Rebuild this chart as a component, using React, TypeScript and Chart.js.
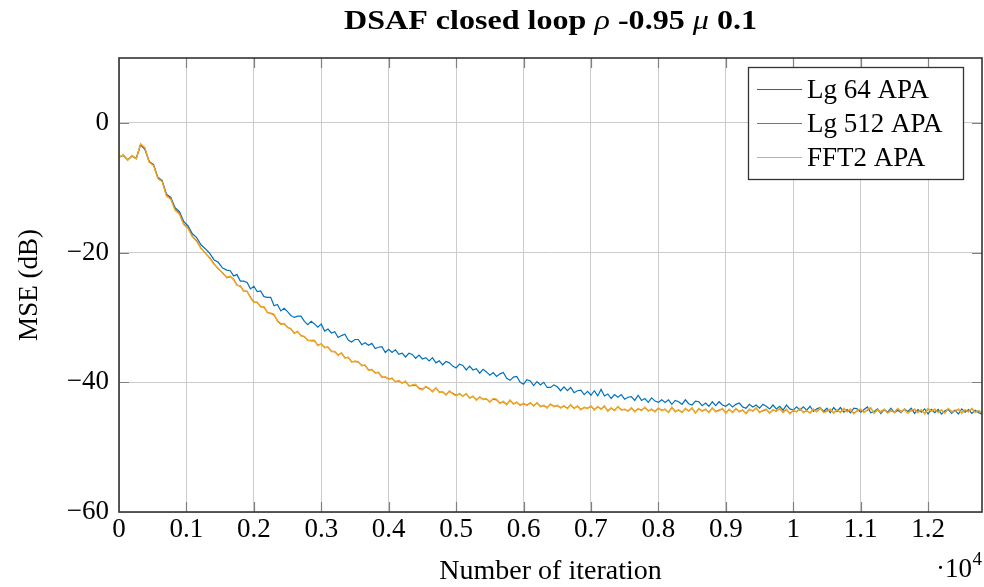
import React, { useEffect, useRef } from "react";
import { Chart, registerables } from "chart.js";

Chart.register(...registerables);

// Iteration index of each sample: every 64 iterations during the fast initial
// descent, then every 50 iterations up to the end of the run.
const EARLY_ITERATIONS = [
  0, 64, 128, 192, 256, 320, 384, 448, 512, 576, 640, 704, 768, 832, 896, 960,
  1024, 1088, 1152, 1216, 1280, 1344, 1408, 1472, 1536,
];
const LATE_START = 1600;
const LATE_STEP = 50;
const LATE_COUNT = 225;
const ITERATIONS = [
  ...EARLY_ITERATIONS,
  ...Array.from({ length: LATE_COUNT }, (_, k) => LATE_START + LATE_STEP * k),
];

// Axis ticks
const X_TICKS = [0, 1000, 2000, 3000, 4000, 5000, 6000, 7000, 8000, 9000, 10000, 11000, 12000];
const Y_TICKS = [-60, -40, -20, 0];
const X_MAX = 12800;
const Y_MIN = -60;
const Y_MAX = 10;

// MSE in dB
const MSE_LG64 = [
  -5.3, -5.0, -5.7, -5.1, -5.5, -3.4, -4.1, -6.0, -6.4, -8.4, -8.9, -11.0, -11.5,
  -13.1, -13.7, -15.2, -15.9, -17.1, -17.7, -18.8, -19.4, -20.1, -21.1, -21.5, -22.4,
  -22.7, -22.8, -23.6, -23.4, -24.4, -24.4, -24.6, -25.6, -25.2, -26.0,
  -25.9, -26.8, -26.9, -26.9, -28.2, -28.0, -29.0, -28.6, -29.1, -29.7,
  -30.0, -29.8, -29.8, -30.6, -31.1, -30.6, -31.0, -31.5, -31.0, -32.1,
  -31.8, -32.4, -32.2, -33.1, -32.8, -32.6, -33.5, -33.8, -33.4, -33.4,
  -34.2, -33.9, -34.3, -34.0, -34.8, -34.6, -34.5, -35.4, -34.9, -35.4,
  -35.0, -35.7, -35.5, -36.1, -35.5, -35.7, -36.3, -35.8, -36.4, -36.2,
  -36.7, -36.2, -37.0, -36.7, -37.3, -36.8, -37.0, -37.5, -37.8, -37.2,
  -37.4, -38.1, -37.5, -38.1, -37.9, -38.6, -38.0, -38.4, -38.9, -38.5,
  -39.1, -38.7, -38.5, -39.4, -39.7, -39.2, -39.1, -40.0, -40.3, -39.6,
  -39.8, -40.5, -39.9, -40.4, -40.0, -40.8, -40.8, -40.4, -40.7, -41.3,
  -40.7, -41.3, -40.8, -41.6, -41.3, -41.2, -41.9, -41.4, -42.0, -41.3,
  -42.1, -41.1, -42.1, -41.8, -42.5, -41.9, -42.3, -41.9, -42.6, -42.3,
  -42.2, -42.8, -42.0, -42.8, -42.5, -43.1, -42.4, -42.9, -43.1, -42.7,
  -43.1, -42.7, -43.4, -42.8, -43.0, -43.4, -42.7, -43.3, -43.5, -42.9,
  -43.0, -43.6, -43.2, -43.7, -43.0, -43.6, -43.0, -43.5, -43.7, -43.3,
  -43.8, -43.4, -43.2, -43.8, -44.0, -43.4, -43.8, -43.5, -44.0, -43.4,
  -43.7, -44.1, -43.5, -44.1, -43.7, -44.3, -43.5, -44.1, -44.3, -43.8,
  -44.3, -43.8, -44.3, -43.7, -44.5, -44.1, -43.9, -44.5, -44.0, -44.7,
  -43.9, -44.5, -43.9, -44.6, -44.2, -44.7, -44.0, -44.1, -44.6, -44.2,
  -43.8, -44.7, -44.5, -44.1, -44.8, -44.2, -44.6, -44.0, -44.7, -44.3,
  -44.7, -44.1, -44.5, -44.0, -44.8, -44.2, -44.6, -44.1, -44.9, -44.2,
  -44.7, -44.2, -44.9, -44.4, -44.2, -44.8, -44.3, -44.9, -44.1, -44.6,
  -44.2, -44.8, -44.3, -44.7, -44.9,
];

const MSE_LG512 = [
  -5.3, -5.0, -5.7, -5.1, -5.5, -3.3, -3.9, -6.0, -6.5, -8.5, -9.0, -11.2, -11.7,
  -13.4, -14.0, -15.6, -16.2, -17.5, -18.2, -19.3, -20.1, -20.8, -21.7, -22.5, -23.1,
  -23.9, -23.7, -24.1, -25.0, -25.2, -25.9, -26.0, -26.9, -27.6, -27.7,
  -28.3, -28.4, -29.2, -29.4, -29.6, -30.5, -31.0, -31.0, -31.5, -31.8,
  -32.4, -32.2, -32.8, -33.0, -33.5, -33.6, -33.6, -34.3, -34.1, -34.6,
  -34.6, -35.2, -35.3, -35.8, -35.5, -36.2, -36.2, -36.8, -36.8, -36.9,
  -37.4, -37.4, -38.1, -38.1, -38.5, -38.5, -39.2, -39.2, -39.5, -39.4,
  -39.9, -39.8, -40.1, -39.9, -40.5, -40.5, -40.4, -40.9, -41.1, -40.7,
  -41.0, -41.4, -40.9, -41.5, -41.5, -41.9, -41.4, -41.7, -42.0, -41.8,
  -42.1, -41.8, -42.4, -42.2, -42.7, -42.3, -42.6, -42.6, -43.0, -42.6,
  -42.7, -43.2, -43.0, -43.4, -42.8, -43.3, -43.1, -43.5, -43.3, -43.5,
  -43.2, -43.6, -43.2, -43.7, -43.6, -43.9, -43.4, -43.7, -43.6, -43.9,
  -43.7, -44.0, -43.5, -44.0, -43.7, -44.2, -43.9, -44.0, -43.7, -44.2,
  -43.8, -44.1, -43.7, -44.4, -44.0, -44.3, -43.8, -44.2, -44.2, -44.4,
  -44.0, -44.5, -44.1, -44.3, -43.9, -44.4, -44.2, -44.5, -44.0, -44.3,
  -44.2, -44.6, -43.9, -44.5, -44.3, -44.6, -44.1, -44.4, -44.0, -44.7,
  -44.1, -44.4, -44.2, -44.6, -44.0, -44.5, -44.3, -44.1, -44.7, -44.2,
  -44.6, -44.1, -44.5, -44.3, -44.8, -44.2, -44.4, -44.0, -44.6, -44.4,
  -44.2, -44.7, -44.3, -44.4, -44.1, -44.6, -44.2, -44.8, -44.4, -44.5,
  -44.1, -44.6, -44.4, -44.7, -44.2, -44.5, -44.0, -44.6, -44.4, -44.2,
  -44.7, -44.3, -44.6, -44.1, -44.5, -44.2, -44.8, -44.4, -44.2, -44.6,
  -44.3, -44.0, -44.7, -44.3, -44.5, -44.2, -44.7, -44.4, -44.6, -44.1,
  -44.5, -44.2, -44.7, -44.4, -44.2, -44.6, -44.3, -44.8, -44.1, -44.4,
  -44.2, -44.6, -44.3, -44.7, -44.1, -44.5, -44.4, -44.2, -44.7, -44.3,
  -44.5, -44.1, -44.6, -44.4, -44.7,
];

const MSE_FFT2 = [
  -5.3, -4.9, -5.8, -5.0, -5.6, -3.2, -3.8, -6.1, -6.6, -8.6, -9.1, -11.3, -11.8,
  -13.5, -14.1, -15.7, -16.3, -17.6, -18.3, -19.4, -20.0, -20.9, -21.8, -22.4, -23.2,
  -23.8, -23.6, -24.2, -25.1, -25.1, -26.0, -25.9, -27.0, -27.7, -27.6,
  -28.4, -28.3, -29.3, -29.3, -29.5, -30.6, -31.1, -30.9, -31.6, -31.7,
  -32.5, -32.1, -32.9, -32.9, -33.6, -33.5, -33.5, -34.4, -34.0, -34.7,
  -34.5, -35.3, -35.2, -35.9, -35.4, -36.3, -36.1, -36.9, -36.7, -36.8,
  -37.5, -37.3, -38.2, -38.0, -38.6, -38.4, -39.3, -39.1, -39.6, -39.3,
  -40.0, -39.7, -40.2, -39.8, -40.6, -40.4, -40.3, -41.0, -41.2, -40.6,
  -40.9, -41.5, -40.8, -41.6, -41.4, -42.0, -41.3, -41.8, -42.1, -41.7,
  -42.2, -41.7, -42.5, -42.1, -42.8, -42.2, -42.7, -42.5, -43.1, -42.5,
  -42.6, -43.3, -42.9, -43.5, -42.7, -43.4, -43.0, -43.6, -43.2, -43.6,
  -43.1, -43.7, -43.1, -43.8, -43.5, -44.0, -43.3, -43.8, -43.5, -44.0,
  -43.6, -44.1, -43.4, -44.1, -43.6, -44.3, -43.8, -44.1, -43.6, -44.3,
  -43.7, -44.2, -43.6, -44.5, -43.9, -44.4, -43.7, -44.3, -44.1, -44.5,
  -43.9, -44.6, -44.0, -44.4, -43.8, -44.5, -44.1, -44.6, -43.9, -44.4,
  -44.1, -44.7, -43.8, -44.6, -44.2, -44.7, -44.0, -44.5, -43.9, -44.8,
  -44.0, -44.5, -44.1, -44.7, -43.9, -44.6, -44.4, -44.0, -44.8, -44.1,
  -44.7, -44.0, -44.6, -44.2, -44.9, -44.1, -44.5, -43.9, -44.7, -44.3,
  -44.1, -44.8, -44.2, -44.5, -44.0, -44.7, -44.1, -44.9, -44.3, -44.6,
  -44.0, -44.7, -44.3, -44.8, -44.1, -44.6, -43.9, -44.7, -44.5, -44.1,
  -44.8, -44.2, -44.7, -44.0, -44.6, -44.1, -44.9, -44.3, -44.1, -44.7,
  -44.2, -43.9, -44.8, -44.2, -44.6, -44.1, -44.8, -44.3, -44.7, -44.0,
  -44.6, -44.1, -44.8, -44.3, -44.1, -44.7, -44.2, -44.9, -44.0, -44.5,
  -44.1, -44.7, -44.2, -44.8, -44.0, -44.6, -44.5, -44.1, -44.8, -44.2,
  -44.6, -44.0, -44.7, -44.3, -44.8,
];

const SERIES_NAMES = ["Lg 64 APA", "Lg 512 APA", "FFT2 APA"];
const SERIES_COLORS = ["#0072BD", "#D95319", "#EDB120"];

const TITLE_PARTS: { text: string; italic: boolean }[] = [
  { text: "DSAF closed loop ", italic: false },
  { text: "ρ", italic: true },
  { text: " -0.95 ", italic: false },
  { text: "μ", italic: true },
  { text: " 0.1", italic: false },
];
const X_TITLE = "Number of iteration";
const Y_TITLE = "MSE (dB)";
const X_MULTIPLIER_BASE = "·10";
const X_MULTIPLIER_EXP = "4";

const SERIF = '"Liberation Serif", "Times New Roman", serif';
const FONT_PX = 27;

const decorPlugin = {
  id: "decor",
  afterDraw(chart: any) {
    const { ctx, chartArea: a, scales } = chart;
    const xs = scales.x;
    const ys = scales.y;
    ctx.save();

    // inward tick marks on all four sides
    const TICK = 10;
    ctx.strokeStyle = "#808080";
    ctx.lineWidth = 1.2;
    ctx.beginPath();
    for (const v of X_TICKS) {
      const px = Math.round(xs.getPixelForValue(v)) + 0.5;
      if (px <= a.left + 1 || px >= a.right - 1) continue;
      ctx.moveTo(px, a.bottom);
      ctx.lineTo(px, a.bottom - TICK);
      ctx.moveTo(px, a.top);
      ctx.lineTo(px, a.top + TICK);
    }
    for (const v of Y_TICKS) {
      const py = Math.round(ys.getPixelForValue(v)) + 0.5;
      if (py >= a.bottom - 1 || py <= a.top + 1) continue;
      ctx.moveTo(a.left, py);
      ctx.lineTo(a.left + TICK, py);
      ctx.moveTo(a.right, py);
      ctx.lineTo(a.right - TICK, py);
    }
    ctx.stroke();

    // axis box
    ctx.strokeStyle = "#333333";
    ctx.lineWidth = 1.6;
    ctx.strokeRect(a.left, a.top, a.right - a.left, a.bottom - a.top);

    // legend
    const lx = 748.5, ly = 67.5, lw = 215, lh = 112;
    ctx.fillStyle = "#ffffff";
    ctx.fillRect(lx, ly, lw, lh);
    ctx.strokeStyle = "#333333";
    ctx.lineWidth = 1.3;
    ctx.strokeRect(lx, ly, lw, lh);
    ctx.font = `${FONT_PX}px ${SERIF}`;
    ctx.textAlign = "left";
    ctx.textBaseline = "alphabetic";
    SERIES_NAMES.forEach((name, i) => {
      const yRow = 89 + i * 34;
      ctx.strokeStyle = SERIES_COLORS[i];
      ctx.lineWidth = 1.2;
      ctx.beginPath();
      ctx.moveTo(757, yRow + 0.5);
      ctx.lineTo(802, yRow + 0.5);
      ctx.stroke();
      ctx.fillStyle = "#000000";
      ctx.fillText(name, 807, yRow + 8.5);
    });

    // chart title with italic math symbols
    const bold = `bold ${FONT_PX}px ${SERIF}`;
    const ital = `italic ${FONT_PX}px ${SERIF}`;
    let total = 0;
    const widths = TITLE_PARTS.map((p) => {
      ctx.font = p.italic ? ital : bold;
      const w = ctx.measureText(p.text).width;
      total += w;
      return w;
    });
    const titleLeft = 344, titleWidth = 413;
    const sx = titleWidth / total;
    ctx.save();
    ctx.translate(titleLeft, 29);
    ctx.scale(sx, 1);
    let cx = 0;
    ctx.fillStyle = "#000000";
    TITLE_PARTS.forEach((p, i) => {
      ctx.font = p.italic ? ital : bold;
      ctx.fillText(p.text, cx, 0);
      cx += widths[i];
    });
    ctx.restore();

    // x axis title and multiplier
    ctx.font = `28px ${SERIF}`;
    ctx.textAlign = "center";
    ctx.fillText(X_TITLE, (a.left + a.right) / 2, 579);
    ctx.textAlign = "left";
    ctx.font = `${FONT_PX}px ${SERIF}`;
    ctx.fillText(X_MULTIPLIER_BASE, 936, 577);
    const bw = ctx.measureText(X_MULTIPLIER_BASE).width;
    ctx.font = `19px ${SERIF}`;
    ctx.fillText(X_MULTIPLIER_EXP, 936 + bw + 0.5, 565);

    // y axis title
    ctx.save();
    ctx.translate(37, (a.top + a.bottom) / 2);
    ctx.rotate(-Math.PI / 2);
    ctx.font = `${FONT_PX}px ${SERIF}`;
    ctx.textAlign = "center";
    ctx.fillText(Y_TITLE, 0, 0);
    ctx.restore();

    ctx.restore();
  },
};

export default function App() {
  const canvasRef = useRef<HTMLCanvasElement | null>(null);

  useEffect(() => {
    const canvas = canvasRef.current;
    if (!canvas) return;
    const seriesValues = [MSE_LG64, MSE_LG512, MSE_FFT2];
    const chart = new Chart(canvas, {
      type: "line",
      data: {
        datasets: seriesValues.map((vals, i) => ({
          label: SERIES_NAMES[i],
          data: ITERATIONS.map((it, k) => ({ x: it, y: vals[k] })),
          borderColor: SERIES_COLORS[i],
          backgroundColor: SERIES_COLORS[i],
          borderWidth: 1.2,
          pointRadius: 0,
          tension: 0,
          fill: false,
          // later series are painted over earlier ones
          order: 3 - i,
        })),
      },
      options: {
        animation: false,
        responsive: false,
        devicePixelRatio: 1,
        layout: { padding: { top: 58, right: 2, left: 0, bottom: 0 } },
        plugins: {
          legend: { display: false },
          title: { display: false },
          tooltip: { enabled: false },
        },
        scales: {
          x: {
            type: "linear",
            bounds: "data",
            min: 0,
            max: X_MAX,
            afterFit: (s: any) => {
              s.height = 75;
            },
            afterBuildTicks: (s: any) => {
              s.ticks = X_TICKS.map((v) => ({ value: v }));
            },
            border: { display: false },
            grid: { color: "#cccccc", lineWidth: 1, drawTicks: false },
            ticks: {
              autoSkip: false,
              maxRotation: 0,
              minRotation: 0,
              padding: 2,
              color: "#000000",
              font: { family: SERIF, size: FONT_PX },
              callback: (v: any) => String(Number((Number(v) / 10000).toFixed(1))),
            },
          },
          y: {
            type: "linear",
            bounds: "data",
            min: Y_MIN,
            max: Y_MAX,
            afterFit: (s: any) => {
              s.width = 119;
            },
            afterBuildTicks: (s: any) => {
              s.ticks = Y_TICKS.map((v) => ({ value: v }));
            },
            border: { display: false },
            grid: { color: "#cccccc", lineWidth: 1, drawTicks: false },
            ticks: {
              padding: 10,
              color: "#000000",
              font: { family: SERIF, size: FONT_PX },
              callback: (v: any) => {
                const n = Number(v);
                return n < 0 ? "\u2212" + Math.abs(n) : String(n);
              },
            },
          },
        },
      },
      plugins: [decorPlugin],
    });
    return () => chart.destroy();
  }, []);

  return (
    <div style={{ position: "absolute", left: 0, top: 0, width: 984, height: 587, background: "#ffffff" }}>
      <canvas ref={canvasRef} width={984} height={587} style={{ display: "block" }} />
    </div>
  );
}
